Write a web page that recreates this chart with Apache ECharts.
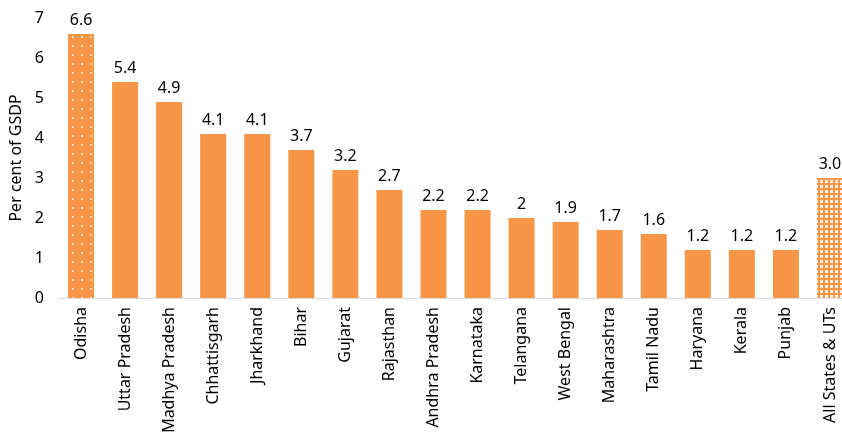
<!DOCTYPE html>
<html>
<head>
<meta charset="utf-8">
<script src="https://cdn.jsdelivr.net/npm/echarts@6/dist/echarts.min.js"></script>
<style>
  html, body { margin: 0; padding: 0; background: #fff; }
  #chart { width: 842px; height: 434px; }
</style>
</head>
<body>
<div id="chart"></div>
<script>
const states = [
  'Odisha', 'Uttar Pradesh', 'Madhya Pradesh', 'Chhattisgarh', 'Jharkhand', 'Bihar',
  'Gujarat', 'Rajasthan', 'Andhra Pradesh', 'Karnataka', 'Telangana', 'West Bengal',
  'Maharashtra', 'Tamil Nadu', 'Haryana', 'Kerala', 'Punjab', 'All States & UTs'
];
const values = [6.6, 5.4, 4.9, 4.1, 4.1, 3.7, 3.2, 2.7, 2.2, 2.2, 2.0, 1.9, 1.7, 1.6, 1.2, 1.2, 1.2, 3.0];
const valueLabels = ['6.6', '5.4', '4.9', '4.1', '4.1', '3.7', '3.2', '2.7', '2.2', '2.2', '2', '1.9', '1.7', '1.6', '1.2', '1.2', '1.2', '3.0'];

const orange = '#F79646';
const font = 'Noto Sans';

// Odisha gets sparse dots, the all-states bar a dense grid
const dotDecal = {
  symbol: 'circle',
  symbolSize: 1,
  color: 'rgba(255,255,255,0.9)',
  dashArrayX: [2, 7],
  dashArrayY: [2, 7]
};
const gridDecal = {
  symbol: 'rect',
  symbolSize: 1,
  color: 'rgba(255,255,255,0.85)',
  dashArrayX: [3, 2],
  dashArrayY: [3, 2]
};

const barData = values.map((v, i) => {
  let item = { value: v };
  if (i === 0) item.itemStyle = { decal: dotDecal };
  if (i === values.length - 1) item.itemStyle = { decal: gridDecal };
  return item;
});

const chart = echarts.init(document.getElementById('chart'), null, { renderer: 'canvas' });

chart.setOption({
  animation: false,
  textStyle: { fontFamily: font },
  grid: { left: 59, width: 793, top: 18, bottom: 136, outerBoundsMode: 'none' },
  xAxis: {
    type: 'category',
    data: states,
    axisLine: { lineStyle: { color: '#D9D9D9', width: 1 } },
    axisTick: { show: false },
    axisLabel: {
      rotate: 90,
      interval: 0,
      margin: 9,
      color: '#000',
      fontSize: 16,
      fontFamily: font
    }
  },
  yAxis: {
    type: 'value',
    min: 0,
    max: 7,
    interval: 1,
    name: 'Per cent of GSDP',
    nameLocation: 'middle',
    nameGap: 35,
    nameTextStyle: { color: '#000', fontSize: 16, fontFamily: font },
    axisLine: { show: false },
    axisTick: { show: false },
    splitLine: { show: false },
    axisLabel: { color: '#000', fontSize: 16, margin: 15, fontFamily: font }
  },
  series: [{
    type: 'bar',
    data: barData,
    barWidth: 26,
    itemStyle: { color: orange },
    label: {
      show: true,
      position: 'top',
      distance: 6,
      color: '#000',
      fontSize: 16,
      fontFamily: font,
      formatter: p => valueLabels[p.dataIndex]
    }
  }]
});
</script>
</body>
</html>
